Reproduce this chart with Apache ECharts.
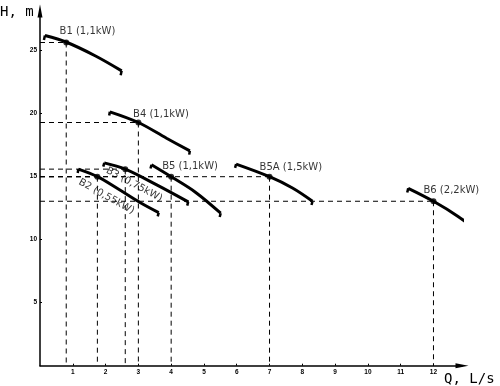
<!DOCTYPE html>
<html>
<head>
<meta charset="utf-8">
<script src="https://cdn.jsdelivr.net/npm/echarts@6/dist/echarts.min.js"></script>
<style>html,body{margin:0;padding:0;background:#fff}#c{width:500px;height:386px}</style>
</head>
<body>
<div id="c"></div>
<script>
// ---- data ----
const pumps = ['B1', 'B2', 'B3', 'B4', 'B5', 'B5A', 'B6'];
const powers = ['1,1kW', '0,55kW', '0,75kW', '1,1kW', '1,1kW', '1,5kW', '2,2kW'];
const dutyQ = [0.8, 1.75, 2.6, 3.0, 4.0, 7.0, 12.0];
const dutyH = [25.65, 15.0, 15.6, 19.3, 15.0, 15.0, 13.05];

const curveB1  = [[0.15, 26.2], [0.81, 25.67], [1.68, 24.6], [2.49, 23.4]];
const curveB2  = [[1.17, 15.6], [1.75, 15.0], [2.4, 14.0], [3.05, 12.95], [3.62, 12.15]];
const curveB3  = [[1.96, 16.1], [2.6, 15.6], [3.56, 14.35], [4.52, 13.0]];
const curveB4  = [[2.13, 20.15], [3.0, 19.3], [3.86, 18.05], [4.57, 17.05]];
const curveB5  = [[3.4, 15.95], [4.0, 15.0], [4.75, 13.75], [5.51, 12.1]];
const curveB5A = [[5.98, 16.0], [7.0, 15.0], [7.7, 14.1], [8.31, 13.05]];
const curveB6  = [[11.23, 14.08], [12.0, 13.05], [12.75, 11.85], [13.44, 10.5]];
const curves = [curveB1, curveB2, curveB3, curveB4, curveB5, curveB5A, curveB6];

// hook tips at the start and end of each curve
const startHooks = [[0.12, 25.85], [1.15, 15.3], [1.93, 15.8], [2.11, 19.85], [3.37, 15.65], [5.95, 15.7], [11.2, 13.75]];
const endHooks   = [[2.46, 23.05], [3.59, 11.85], [4.49, 12.7], [4.55, 16.75], [5.48, 11.8], [8.28, 12.75], [13.41, 10.2]];

const xTickLabels = [1, 2, 3, 4, 5, 6, 7, 8, 9, 10, 11, 12];
const yTickLabels = [5, 10, 15, 20, 25];

// ---- styles ----
const labelStyles = [
  { offset: [-6.7, -10.8], rotate: 0, vAlign: 'middle' },
  { offset: [-13.5, 8], rotate: -29, vAlign: 'top' },
  { offset: [-16, 4.5], rotate: -28, vAlign: 'top' },
  { offset: [-5.3, -7.8], rotate: 0, vAlign: 'middle' },
  { offset: [-9, -10.7], rotate: 0, vAlign: 'middle' },
  { offset: [-10, -9.5], rotate: 0, vAlign: 'middle' },
  { offset: [-10, -10.7], rotate: 0, vAlign: 'middle' }
];
const FONT = '"DejaVu Sans", sans-serif';

const series = [];
// dashed guide lines
pumps.forEach((p, i) => {
  const q = dutyQ[i], h = dutyH[i];
  series.push({
    type: 'line', z: 1, silent: true, symbol: 'none', clip: false,
    data: [[0, h], [q, h]],
    lineStyle: { color: '#000', width: 1, type: [5, 4] }
  });
  series.push({
    type: 'line', z: 1, silent: true, symbol: 'none', clip: false,
    data: [[q, h], [q, 0]],
    lineStyle: { color: '#000', width: 1, type: [5, 4] }
  });
});
// curves + hooks
curves.forEach((c, i) => {
  series.push({
    type: 'line', z: 3, symbol: 'none', smooth: 0.35, clip: false,
    data: c,
    lineStyle: { color: '#000', width: 3 }
  });
  series.push({
    type: 'line', z: 3, symbol: 'none', clip: false,
    data: [startHooks[i], c[0]],
    lineStyle: { color: '#000', width: 2.5 }
  });
  series.push({
    type: 'line', z: 3, symbol: 'none', clip: false,
    data: [c[c.length - 1], endHooks[i]],
    lineStyle: { color: '#000', width: 2.5 }
  });
});
// duty points with labels
series.push({
  type: 'scatter', z: 5, symbolSize: 6, clip: false,
  itemStyle: { color: '#000' },
  data: pumps.map((p, i) => ({
    value: [dutyQ[i], dutyH[i]],
    label: {
      show: true,
      formatter: p + ' (' + powers[i] + ')',
      position: 'inside',
      align: 'left',
      verticalAlign: labelStyles[i].vAlign,
      offset: labelStyles[i].offset,
      rotate: labelStyles[i].rotate,
      color: '#000',
      fontSize: 10,
      fontFamily: FONT
    }
  }))
});

const chart = echarts.init(document.getElementById('c'), null, { renderer: 'canvas' });
chart.setOption({
  animation: false,
  backgroundColor: '#fff',
  grid: { left: 40, right: 38, top: 11, bottom: 20.3, containLabel: false },
  xAxis: {
    type: 'value', min: 0, max: 12.87, interval: 1,
    axisLine: { lineStyle: { color: '#000', width: 1.5 }, symbol: ['none', 'triangle'], symbolSize: [5, 13] },
    axisTick: { inside: true, length: 2, lineStyle: { color: '#000', width: 1 } },
    axisLabel: {
      margin: 3, fontSize: 6.5, fontWeight: 'bold', fontFamily: '"Liberation Sans", sans-serif', color: '#000',
      showMinLabel: false, showMaxLabel: false,
      formatter: v => xTickLabels.indexOf(v) >= 0 ? String(v) : ''
    },
    splitLine: { show: false }
  },
  yAxis: {
    type: 'value', min: 0, max: 28.15, interval: 5,
    axisLine: { show: true, lineStyle: { color: '#000', width: 1.5 }, symbol: ['none', 'triangle'], symbolSize: [5, 13] },
    axisTick: { show: true, inside: true, length: 2, lineStyle: { color: '#000', width: 1 } },
    axisLabel: {
      margin: 3, fontSize: 6.5, fontWeight: 'bold', fontFamily: '"Liberation Sans", sans-serif', color: '#000',
      showMinLabel: false, showMaxLabel: false,
      formatter: v => yTickLabels.indexOf(v) >= 0 ? String(v) : ''
    },
    splitLine: { show: false }
  },
  graphic: [
    { type: 'text', left: 0, top: 5, style: { text: 'H, m', font: '14px "DejaVu Sans Mono", monospace', fill: '#000' } },
    { type: 'text', left: 444, top: 372, style: { text: 'Q, L/s', font: '14px "DejaVu Sans Mono", monospace', fill: '#000' } }
  ],
  series: series
});
</script>
</body>
</html>
